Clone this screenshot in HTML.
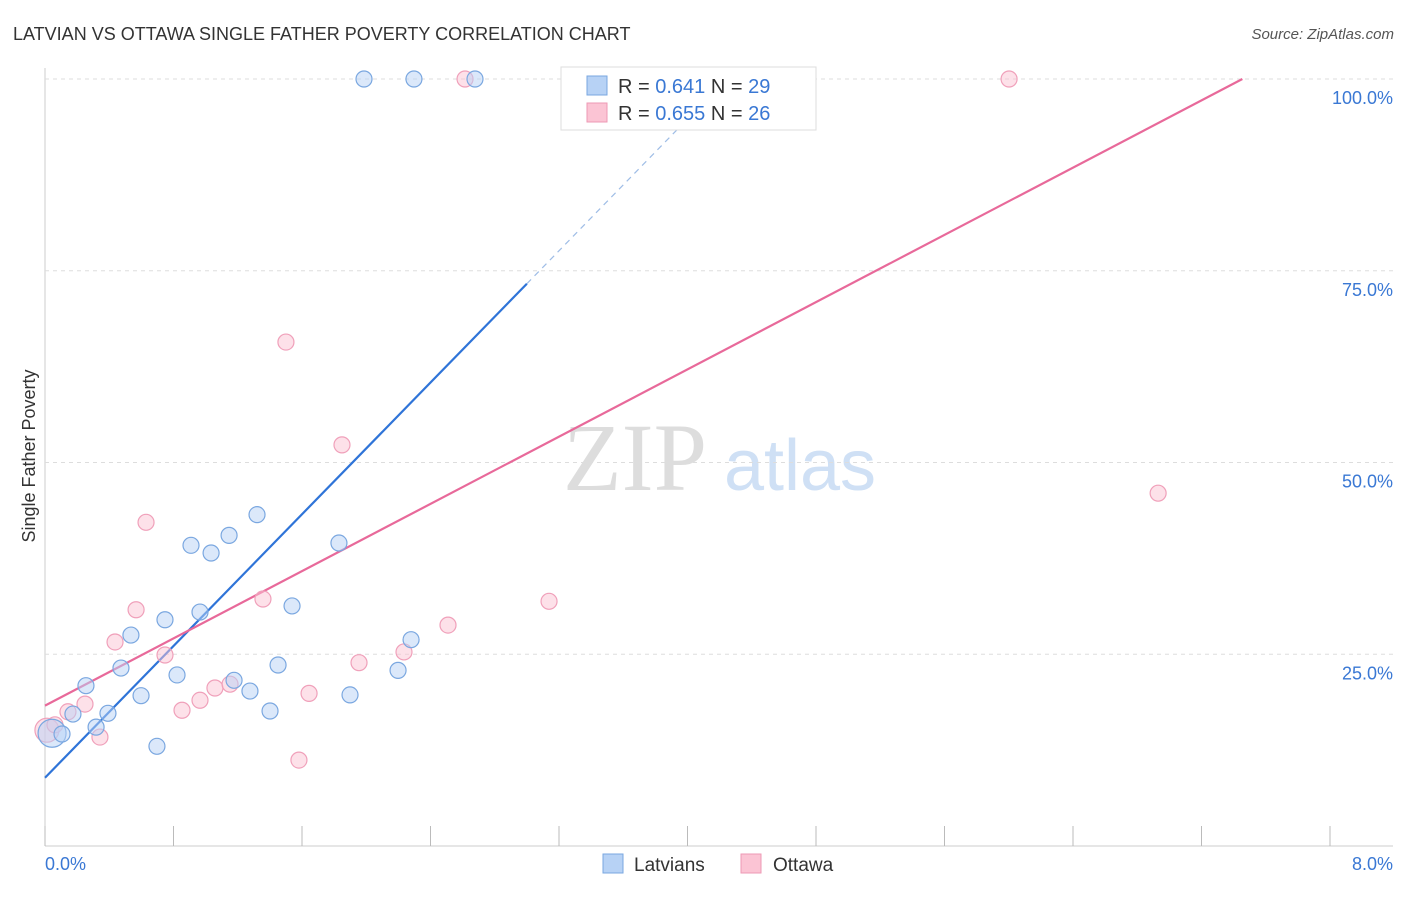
<!DOCTYPE html>
<html><head><meta charset="utf-8"><style>
body{margin:0;background:#fff;font-family:"Liberation Sans",sans-serif;}
</style></head><body>
<svg width="1406" height="892" viewBox="0 0 1406 892" xmlns="http://www.w3.org/2000/svg" id="svg">
<text x="13" y="40" font-size="18" fill="#333">LATVIAN VS OTTAWA SINGLE FATHER POVERTY CORRELATION CHART</text>
<text x="1394" y="39" font-size="15" fill="#555" font-style="italic" text-anchor="end">Source: ZipAtlas.com</text>
<text x="35" y="456" font-size="18" fill="#333" text-anchor="middle" transform="rotate(-90 35 456)">Single Father Poverty</text>
<g><text x="635" y="490" font-size="96" fill="#ddd" font-family="Liberation Serif" text-anchor="middle">ZIP</text><text x="800" y="490" font-size="72" fill="#cfe0f5" text-anchor="middle">atlas</text></g>
<g id="grid"></g><g id="lines"></g><g id="pts"></g>
<g>
<rect x="561" y="67" width="255" height="63" fill="#fff" stroke="#ddd"/>
<rect x="587" y="76" width="20" height="19" fill="#b7d2f5" stroke="#7aa7e0"/>
<rect x="587" y="103" width="20" height="19" fill="#fbc4d4" stroke="#ee99b4"/>
<text x="618" y="93" font-size="20" fill="#333">R = <tspan fill="#3a78d4">0.641</tspan>   N = <tspan fill="#3a78d4">29</tspan></text>
<text x="618" y="120" font-size="20" fill="#333">R = <tspan fill="#3a78d4">0.655</tspan>   N = <tspan fill="#3a78d4">26</tspan></text>
</g>
<g>
<rect x="603" y="854" width="20" height="19" fill="#b7d2f5" stroke="#7aa7e0"/>
<text x="634" y="871" font-size="19" fill="#333">Latvians</text>
<rect x="741" y="854" width="20" height="19" fill="#fbc4d4" stroke="#ee99b4"/>
<text x="773" y="871" font-size="19" fill="#333">Ottawa</text>
</g>
<text x="45" y="870" font-size="18" fill="#3a78d4">0.0%</text>
<text x="1393" y="870" font-size="18" fill="#3a78d4" text-anchor="end">8.0%</text>
</svg>
<script>
const yTicks=[25,50,75,100];
const yTickLabels=["25.0%","50.0%","75.0%","100.0%"];
const xTicks=[0,0.8,1.6,2.4,3.2,4.0,4.8,5.6,6.4,7.2,8.0];
const blueX=[0.044,0.106,0.174,0.255,0.318,0.392,0.473,0.535,0.598,0.697,0.747,0.822,0.909,0.965,1.034,1.146,1.177,1.276,1.320,1.401,1.451,1.538,1.830,1.899,2.198,2.279,1.986,2.297,2.677];
const blueY=[14.7,14.6,17.2,20.9,15.5,17.3,23.2,27.5,19.6,13.0,29.5,22.3,39.2,30.5,38.2,40.5,21.6,20.2,43.2,17.6,23.6,31.3,39.5,19.7,22.9,26.9,100,100,100];
const pinkX=[0.012,0.062,0.143,0.249,0.342,0.436,0.567,0.629,0.747,0.853,0.965,1.058,1.152,1.357,1.500,1.581,1.644,1.849,1.955,2.235,2.509,3.138,2.615,3.580,6.002,6.930];
const pinkY=[15.1,15.8,17.5,18.5,14.2,26.6,30.8,42.2,24.9,17.7,19.0,20.6,21.1,32.2,65.7,11.2,19.9,52.3,23.9,25.3,28.8,31.9,100,100,100,46.0];
const blueTrend=[8.9,21.47];const pinkTrend=[18.3,10.96];
const X=v=>45+v/8*1285, Y=v=>846-v/100*767;
const NS="http://www.w3.org/2000/svg";
function mk(tag,attrs,parent){const e=document.createElementNS(NS,tag);for(const k in attrs)e.setAttribute(k,attrs[k]);document.getElementById(parent).appendChild(e);return e;}
const g="grid";
let ax=mk("line",{x1:45,y1:846,x2:1393,y2:846,stroke:"#ccc"},g);


let ay=mk("line",{x1:45,y1:68,x2:45,y2:846,stroke:"#ccc"},g);


yTicks.forEach((t,i)=>{
 let l=mk("line",{x1:45,y1:Y(t),x2:1393,y2:Y(t),stroke:"#ddd","stroke-dasharray":"4,4"},g);
 
 
 let tx=mk("text",{x:1393,y:Y(t)+25,"font-size":18,fill:"#3a78d4","text-anchor":"end"},g);tx.textContent=yTickLabels[i];
 
 
});
xTicks.forEach(t=>{
 let l=mk("line",{x1:X(t),y1:826,x2:X(t),y2:846,stroke:"#bbb"},g);
 
 
});
let bl=mk("line",{x1:X(0),y1:Y(blueTrend[0]),x2:X(3.0),y2:Y(blueTrend[0]+blueTrend[1]*3.0),stroke:"#2f74d8","stroke-width":2.2},"lines");


let bd=mk("line",{x1:X(3.0),y1:Y(blueTrend[0]+blueTrend[1]*3.0),x2:X(4.24),y2:Y(blueTrend[0]+blueTrend[1]*4.24),stroke:"#9fbde6","stroke-width":1.2,"stroke-dasharray":"6,5"},"lines");


let px2=(100-pinkTrend[0])/pinkTrend[1];
let pl=mk("line",{x1:X(0),y1:Y(pinkTrend[0]),x2:X(px2),y2:Y(100),stroke:"#e8699a","stroke-width":2.2},"lines");


pinkX.forEach((v,i)=>{
 let c=mk("circle",{cx:X(v),cy:Y(pinkY[i]),r:i==0?12:8,fill:"rgba(251,196,212,0.5)",stroke:"#f0a0ba","stroke-width":1.2},"pts");
 
 
});
blueX.forEach((v,i)=>{
 let c=mk("circle",{cx:X(v),cy:Y(blueY[i]),r:i==0?14:8,fill:"rgba(183,210,245,0.5)",stroke:"#7aa7e0","stroke-width":1.2},"pts");
 
 
});
</script>
</body></html>
